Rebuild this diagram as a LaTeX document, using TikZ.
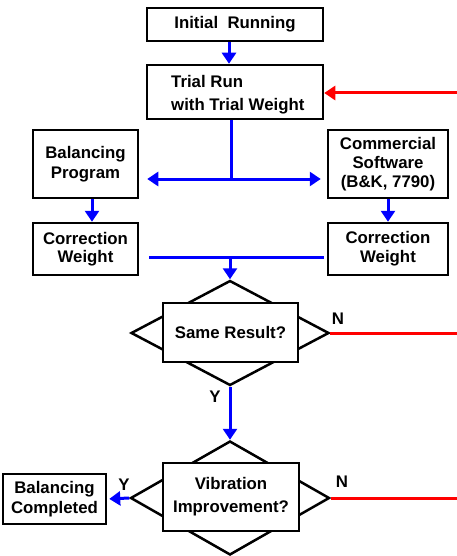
\documentclass[tikz,border=0pt]{standalone}
\usepackage{fontspec}
\setmainfont{Liberation Sans}
\usetikzlibrary{arrows.meta,shapes.geometric,calc}
\begin{document}
\begin{tikzpicture}[x=1pt,y=-1pt,
  box/.style={draw=black,line width=2.5pt,fill=white,inner sep=0pt,align=center,font=\fontsize{16.8}{20}\selectfont\bfseries},
  lbl/.style={font=\fontsize{16.8}{20}\selectfont\bfseries,inner sep=0pt},
  blu/.style={draw=blue,line width=3pt},
  redline/.style={draw=red,line width=3pt},
  arr/.style={-{Triangle[length=11pt,width=14pt]}},
  dia/.style={draw=black,line width=2.5pt,diamond,inner sep=0pt}
]
\useasboundingbox (0,0) rectangle (457,556);
% boxes
\node[box,minimum width=176pt,minimum height=33pt] (init) at (235,24.5) {Initial\ \ Running};
\node[box,minimum width=176pt,minimum height=54pt] (trial) at (235,92) {};
\node[lbl,align=left,anchor=west,font=\fontsize{16.8}{23}\selectfont\bfseries] (trialtxt) at (171,94.5) {Trial Run\\ with Trial Weight};
\node[box,minimum width=105pt,minimum height=68pt] (bp) at (85.5,164) {Balancing\\Program};
\node[box,minimum width=120pt,minimum height=68pt,font=\fontsize{16.8}{19}\selectfont\bfseries] (cs) at (388,164) {Commercial\\Software\\(B\&K, 7790)};
\node[box,minimum width=105pt,minimum height=52pt,font=\fontsize{16.8}{18.5}\selectfont\bfseries] (cwl) at (85.5,249) {Correction\\Weight};
\node[box,minimum width=120pt,minimum height=52pt,font=\fontsize{16.8}{19}\selectfont\bfseries] (cwr) at (388,249) {Correction\\Weight};
% decisions
\node[dia,minimum width=198pt,minimum height=105pt] (d1) at (230,333) {};
\node[box,minimum width=135pt,minimum height=59pt] (q1) at (230.5,332.5) {Same Result?};
\node[dia,minimum width=199pt,minimum height=114pt] (d2) at (230,498) {};
\node[box,minimum width=136pt,minimum height=68pt,font=\fontsize{16.8}{23}\selectfont\bfseries] (q2) at (231,497) {Vibration\\Improvement?};
\node[box,minimum width=103pt,minimum height=50pt] (bc) at (54.5,499) {Balancing\\Completed};
% labels
\node[lbl] (n1) at (338,319) {N};
\node[lbl] (y1) at (215,397) {Y};
\node[lbl] (y2) at (124,485) {Y};
\node[lbl] (n2) at (342,482) {N};
% connectors
\coordinate (rx) at (457,0);
\draw[blu,arr] ($(init.south)+(-6,0)$) -- ($(trial.north)+(-6,0)$);
\coordinate (rin) at (457,93);
\draw[redline,arr] (rin) -- (rin -| trial.east);
\coordinate (j1) at (231,179);
\draw[blu] (trial.south -| j1) -- (j1);
\draw[blu,arr,shorten >=8pt] (j1) -- (j1 -| bp.east);
\draw[blu,arr,shorten >=6pt] (j1) -- (j1 -| cs.west);
\draw[blu,arr] ($(bp.south)+(6.5,0)$) -- ($(cwl.north)+(6.5,0)$);
\draw[blu,arr] (cs.south) -- (cwr.north);
\coordinate (j2) at (230,257);
\draw[blu] ($(cwl.east |- j2)+(10,0)$) -- ($(cwr.west |- j2)+(-3,0)$);
\draw[blu,arr] (j2) -- (d1.north);
\draw[redline] (d1.east) -- (d1.east -| rx);
\draw[blu,arr] (d1.south) -- (d2.north);
\draw[blu,arr,shorten >=2pt] (d2.west) -- (bc.east);
\draw[redline] (d2.east) -- (d2.east -| rx);
\end{tikzpicture}
\end{document}
